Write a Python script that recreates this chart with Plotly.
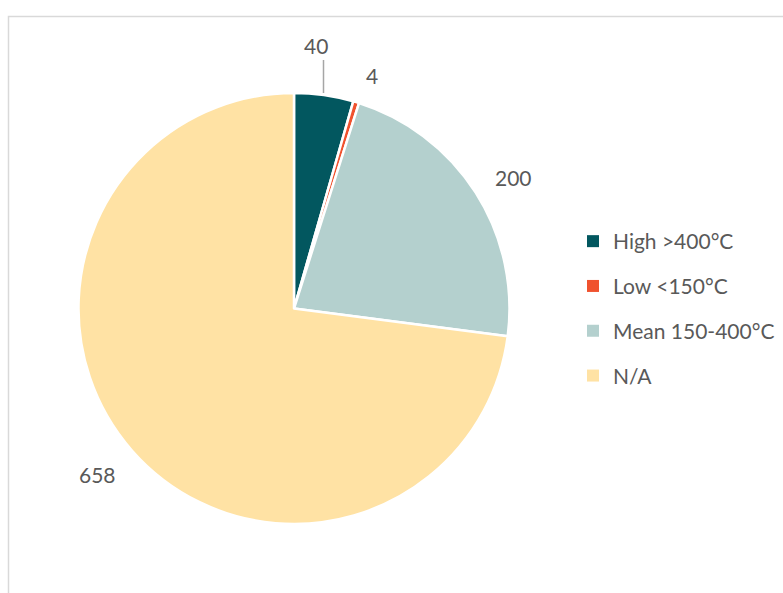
import plotly.graph_objects as go

# Temperature classes and their counts
categories = ["High >400°C", "Low <150°C", "Mean 150-400°C", "N/A"]
counts = [40, 4, 200, 658]
colors = ["#02575F", "#F0522E", "#B4D0CE", "#FFE2A4"]

W, H = 783, 593
FONT = "Lato"
TEXT = "#595959"

# Value label centres (pixels from top-left)
label_px = [(316, 46), (372, 76), (513, 177), (97, 474)]

# Pie placement (pixels)
cx, cy, size = 294, 308.5, 431

fig = go.Figure()

fig.add_trace(go.Pie(
    labels=categories,
    values=counts,
    sort=False,
    direction="clockwise",
    rotation=0,
    marker=dict(colors=colors, line=dict(color="white", width=2.5)),
    textinfo="none",
    hoverinfo="label+value",
    showlegend=False,
    domain=dict(x=[(cx - size / 2) / W, (cx + size / 2) / W],
                y=[(H - cy - size / 2) / H, (H - cy + size / 2) / H]),
))

# Legend entries as square markers, one group each for even spacing
for name, col in zip(categories, colors):
    fig.add_trace(go.Scatter(
        x=[None], y=[None], mode="markers", name=name,
        legendgroup=name,
        marker=dict(symbol="square", size=10, color=col),
    ))

# Value labels
for v, (px, py) in zip(counts, label_px):
    fig.add_annotation(x=px / W, y=1 - py / H, xref="paper", yref="paper",
                       xanchor="center", yanchor="middle", text=str(v),
                       showarrow=False, font=dict(family=FONT, size=21, color=TEXT))

# Leader line for the small slice label
fig.add_shape(type="line", xref="paper", yref="paper",
              x0=323.5 / W, x1=323.5 / W, y0=1 - 60 / H, y1=1 - 93 / H,
              line=dict(color="#A6A6A6", width=1.5))

# Chart area frame
fig.add_shape(type="rect", xref="paper", yref="paper",
              x0=8.5 / W, x1=1.2, y0=-0.2, y1=1 - 16.5 / H,
              line=dict(color="#D9D9D9", width=1.5), layer="below")

fig.update_layout(
    width=W, height=H,
    margin=dict(l=0, r=0, t=0, b=0),
    paper_bgcolor="white",
    plot_bgcolor="white",
    xaxis=dict(visible=False),
    yaxis=dict(visible=False),
    font=dict(family=FONT, color=TEXT),
    legend=dict(
        x=573 / W, y=1 - 221 / H, xanchor="left", yanchor="top",
        font=dict(family=FONT, size=21, color=TEXT),
        tracegroupgap=14.5,
        itemsizing="constant",
        bgcolor="rgba(0,0,0,0)",
    ),
)

fig.write_html("out.html")
